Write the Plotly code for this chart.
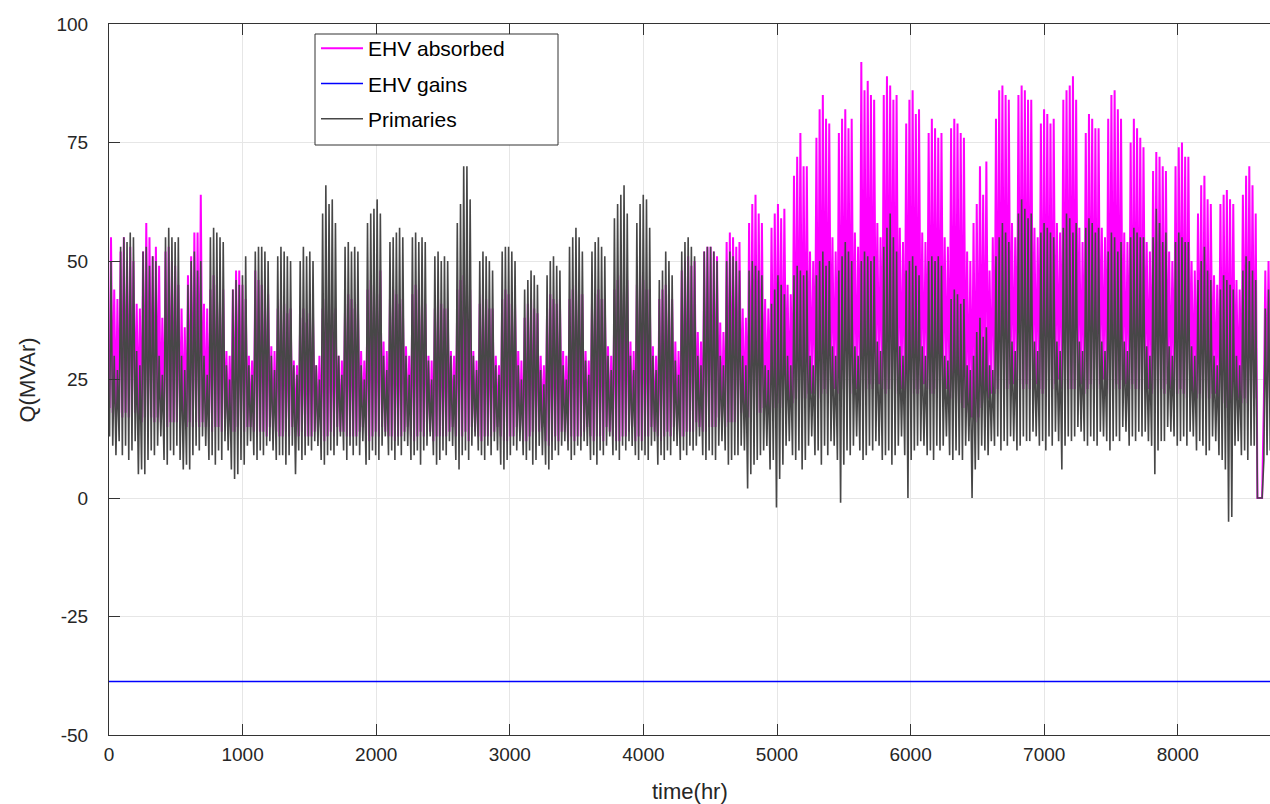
import plotly.graph_objects as go

# ---- data (daily extremes, weeks of 7 days; hour = day*24) ----
HOURS_PER_DAY = 24
TROUGH_HOUR = 4
PEAK_HOUR = 15

# Primaries: daily peak values (MVAr)
GRAY_PEAK = [
    50, 30, 27, 53, 55, 54, 56,
    55, 31, 28, 52, 53, 49, 51,
    50, 30, 26, 55, 57, 55, 54,
    55, 30, 27, 45, 50, 52, 48,
    50, 30, 26, 55, 57, 56, 55,
    54, 28, 25, 44, 46, 45, 47,
    51, 28, 26, 52, 53, 53, 52,
    50, 30, 27, 51, 53, 52, 51,
    50, 28, 26, 50, 53, 51, 52,
    50, 28, 25, 60, 66, 62, 63,
    58, 30, 26, 53, 54, 52, 53,
    52, 28, 25, 58, 60, 61, 63,
    60, 30, 27, 54, 55, 56, 57,
    55, 30, 26, 55, 56, 54, 55,
    54, 29, 25, 51, 52, 50, 51,
    50, 30, 26, 58, 62, 70, 70,
    63, 30, 27, 50, 52, 51, 50,
    48, 28, 26, 52, 53, 53, 52,
    50, 28, 25, 44, 46, 48, 47,
    45, 27, 24, 47, 50, 51, 49,
    48, 28, 25, 53, 55, 57, 55,
    52, 29, 26, 52, 54, 55, 53,
    51, 30, 27, 59, 62, 64, 66,
    60, 30, 27, 58, 62, 64, 63,
    57, 30, 27, 46, 48, 52, 50,
    47, 29, 26, 52, 54, 55, 53,
    51, 30, 28, 52, 53, 53, 52,
    50, 30, 28, 50, 52, 51, 50,
    48, 30, 28, 48, 50, 49, 48,
    47, 28, 27, 41, 44, 47, 45,
    43, 30, 28, 47, 49, 48, 47,
    48, 30, 28, 47, 50, 52, 49,
    50, 32, 30, 48, 51, 54, 52,
    50, 32, 30, 50, 52, 51, 50,
    51, 33, 31, 53, 57, 60, 55,
    52, 32, 30, 48, 50, 51, 49,
    47, 32, 30, 50, 51, 50, 51,
    49, 30, 29, 42, 44, 43, 41,
    42, 28, 27, 30, 35, 38, 34,
    36, 28, 27, 51, 55, 58, 56,
    54, 33, 31, 60, 63, 61, 59,
    60, 33, 31, 56, 58, 57, 56,
    55, 33, 31, 57, 60, 59, 56,
    58, 33, 31, 57, 59, 58, 56,
    57, 33, 31, 52, 56, 55, 52,
    54, 33, 31, 55, 57, 56, 55,
    55, 32, 30, 55, 61, 58, 54,
    56, 32, 30, 54, 56, 55, 54,
    54, 32, 30, 46, 50, 53, 48,
    46, 30, 28, 44, 47, 46, 45,
    44, 30, 28, 48, 51, 50, 48,
    46, 0, 0, 40, 44, 42, 40,
]

# Primaries: daily trough values (MVAr)
GRAY_TROUGH = [
    13, 11, 9, 12, 9, 11, 8,
    10, 12, 5, 6, 5, 8, 10,
    9, 11, 13, 8, 7, 10, 9,
    11, 8, 6, 7, 6, 9, 11,
    10, 13, 11, 8, 9, 7, 10,
    8, 12, 10, 6, 4, 5, 8,
    7, 11, 12, 9, 8, 10, 9,
    11, 12, 10, 8, 9, 9, 7,
    9, 11, 5, 10, 8, 9, 11,
    10, 12, 11, 8, 7, 9, 10,
    9, 11, 13, 10, 8, 11, 9,
    11, 9, 12, 7, 8, 10, 9,
    8, 11, 13, 9, 10, 8, 11,
    9, 12, 11, 8, 9, 10, 7,
    10, 11, 13, 9, 7, 8, 10,
    9, 12, 11, 8, 6, 9, 10,
    8, 11, 13, 10, 9, 8, 11,
    9, 12, 10, 7, 6, 8, 9,
    11, 10, 12, 9, 8, 10, 7,
    8, 11, 9, 7, 6, 8, 10,
    9, 11, 12, 10, 8, 9, 11,
    10, 12, 11, 8, 9, 7, 10,
    9, 11, 13, 9, 10, 8, 11,
    10, 12, 11, 9, 8, 10, 9,
    8, 11, 12, 7, 9, 8, 10,
    9, 12, 11, 8, 10, 9, 11,
    10, 11, 13, 9, 8, 10, 9,
    8, 11, 12, 10, 7, 8, 9,
    9, 11, 10, 2, 5, 7, 8,
    9, 10, 11, 6, 8, -2, 4,
    7, 11, 12, 9, 8, 10, 6,
    8, 11, 13, 9, 10, 7, 11,
    9, 12, 11, 8, -1, 7, 10,
    9, 11, 13, 10, 8, 9, 11,
    10, 12, 11, 8, 9, 10, 7,
    9, 11, 13, 9, 0, 8, 10,
    11, 12, 11, 9, 10, 8, 11,
    10, 11, 13, 9, 8, 10, 9,
    8, 11, 12, 0, 6, 8, 11,
    10, 9, 12, 11, 13, 10, 12,
    11, 13, 12, 10, 11, 13, 12,
    12, 14, 13, 11, 12, 10, 13,
    11, 14, 12, 6, 11, 13, 12,
    13, 15, 14, 12, 11, 13, 12,
    11, 14, 13, 12, 10, 12, 13,
    12, 15, 14, 11, 13, 12, 14,
    13, 14, 12, 11, 5, 10, 12,
    12, 15, 14, 13, 11, 12, 13,
    11, 14, 13, 10, 12, 11, 9,
    10, 13, 12, 9, 8, 6, -5,
    -4, 11, 12, 9, 10, 8, 11,
    11, 0, 0, 8, 9, 10, 11,
]

# EHV absorbed: daily peak values (MVAr)
MAG_PEAK = [
    55, 44, 42, 52, 55, 50, 53,
    50, 41, 40, 52, 58, 55, 51,
    53, 49, 38, 52, 53, 50, 49,
    45, 40, 36, 47, 51, 56, 56,
    64, 41, 40, 44, 47, 45, 42,
    44, 31, 30, 44, 48, 48, 45,
    42, 30, 29, 48, 46, 45, 44,
    43, 32, 31, 40, 42, 41, 39,
    40, 29, 28, 38, 40, 37, 39,
    38, 28, 30, 40, 42, 41, 39,
    40, 30, 29, 41, 43, 42, 40,
    41, 31, 29, 44, 46, 45, 43,
    48, 33, 31, 42, 44, 43, 41,
    42, 32, 30, 43, 45, 44, 42,
    41, 30, 29, 40, 42, 41, 40,
    40, 31, 30, 44, 46, 47, 45,
    44, 31, 29, 41, 43, 42, 40,
    40, 30, 28, 42, 44, 43, 41,
    41, 31, 29, 38, 41, 42, 40,
    39, 30, 28, 40, 43, 42, 41,
    42, 31, 30, 42, 44, 45, 43,
    43, 31, 29, 41, 43, 44, 42,
    42, 32, 30, 44, 46, 47, 45,
    46, 33, 31, 45, 47, 46, 44,
    44, 32, 30, 42, 44, 45, 43,
    42, 33, 31, 48, 50, 51, 49,
    50, 35, 33, 52, 53, 53, 52,
    51, 37, 35, 54, 56, 55, 53,
    54, 40, 38, 58, 62, 64, 60,
    58, 42, 40, 57, 60, 62, 59,
    61, 45, 43, 68, 72, 77, 70,
    70, 52, 50, 76, 82, 85, 80,
    79, 55, 52, 77, 80, 82, 78,
    80, 56, 53, 92, 86, 88, 85,
    84, 58, 55, 85, 89, 87, 84,
    85, 57, 54, 79, 84, 86, 81,
    82, 56, 54, 77, 80, 78, 76,
    77, 55, 53, 78, 80, 79, 77,
    76, 52, 50, 58, 62, 70, 64,
    71, 48, 55, 80, 86, 87, 85,
    84, 58, 55, 85, 87, 86, 84,
    84, 57, 55, 79, 82, 81, 79,
    80, 58, 56, 84, 86, 87, 89,
    84, 57, 54, 77, 81, 80, 78,
    78, 57, 55, 80, 85, 86, 82,
    80, 56, 54, 75, 80, 78, 76,
    74, 54, 52, 69, 73, 72, 70,
    69, 52, 50, 70, 74, 75, 72,
    72, 50, 48, 60, 66, 68, 63,
    62, 47, 45, 62, 64, 65, 63,
    62, 46, 44, 64, 68, 70, 66,
    60, 0, 0, 48, 50, 49, 48,
]

# EHV absorbed: daily trough values (MVAr)
MAG_TROUGH = [
    19, 18, 17, 18, 17, 18, 17,
    17, 18, 17, 16, 17, 16, 17,
    16, 17, 16, 16, 15, 16, 16,
    16, 17, 16, 15, 16, 15, 16,
    15, 16, 15, 15, 14, 15, 15,
    14, 16, 15, 14, 14, 15, 14,
    14, 15, 15, 14, 13, 14, 14,
    13, 15, 14, 14, 13, 13, 14,
    13, 15, 14, 13, 14, 13, 13,
    13, 14, 14, 13, 12, 13, 14,
    13, 15, 14, 14, 13, 13, 13,
    13, 14, 15, 13, 12, 13, 14,
    13, 15, 14, 13, 13, 12, 13,
    13, 14, 15, 13, 12, 13, 14,
    13, 15, 14, 12, 13, 13, 13,
    13, 14, 15, 13, 12, 13, 14,
    12, 15, 14, 13, 12, 13, 13,
    13, 14, 15, 13, 12, 12, 13,
    13, 15, 14, 12, 12, 13, 14,
    13, 14, 15, 12, 11, 12, 13,
    12, 14, 14, 12, 13, 12, 13,
    13, 14, 15, 13, 12, 13, 13,
    12, 15, 14, 13, 12, 12, 13,
    13, 14, 15, 12, 13, 12, 13,
    13, 15, 14, 13, 12, 13, 14,
    13, 15, 14, 13, 13, 14, 14,
    14, 16, 15, 14, 14, 15, 15,
    15, 17, 16, 15, 16, 16, 16,
    16, 18, 17, 17, 17, 18, 18,
    18, 19, 19, 18, 19, 19, 20,
    19, 20, 20, 20, 21, 21, 21,
    21, 22, 22, 22, 21, 22, 23,
    22, 23, 23, 22, 22, 23, 22,
    22, 24, 23, 23, 22, 23, 24,
    23, 24, 24, 23, 22, 23, 23,
    22, 24, 23, 22, 23, 22, 23,
    22, 23, 24, 23, 22, 22, 23,
    22, 23, 23, 21, 21, 20, 20,
    19, 19, 18, 17, 16, 17, 19,
    20, 21, 22, 22, 23, 22, 23,
    23, 24, 24, 23, 24, 23, 24,
    23, 25, 24, 23, 22, 23, 24,
    23, 24, 25, 23, 24, 23, 23,
    23, 25, 24, 22, 23, 24, 23,
    23, 24, 25, 23, 22, 23, 24,
    23, 25, 24, 23, 24, 23, 23,
    22, 24, 23, 22, 23, 22, 23,
    22, 24, 23, 22, 22, 23, 22,
    21, 23, 22, 21, 22, 21, 21,
    21, 22, 22, 20, 20, 19, 19,
    19, 21, 21, 20, 21, 20, 21,
    21, 0, 0, 20, 21, 20, 21,
]

# EHV gains: constant level (MVAr)
EHV_GAINS_LEVEL = -38.7
EHV_GAINS_HOURS = [0, 8760]

X_TICKS = [0, 1000, 2000, 3000, 4000, 5000, 6000, 7000, 8000]
Y_TICKS = [-50, -25, 0, 25, 50, 75, 100]
Y_TICK_TEXT = ["-50", "-25", "0", "25", "50", "75", "100"]


def daily_series(troughs, peaks):
    xs, ys = [], []
    for d, (lo, hi) in enumerate(zip(troughs, peaks)):
        xs += [d * HOURS_PER_DAY + TROUGH_HOUR, d * HOURS_PER_DAY + PEAK_HOUR]
        ys += [lo, hi]
    return xs, ys


mx, my = daily_series(MAG_TROUGH, MAG_PEAK)
gx, gy = daily_series(GRAY_TROUGH, GRAY_PEAK)

fig = go.Figure()
fig.add_trace(go.Scatter(x=mx, y=my, mode="lines", name="EHV absorbed",
                         line=dict(color="#ff00ff", width=2),
                         legendgroup="a"))
fig.add_trace(go.Scatter(x=EHV_GAINS_HOURS, y=[EHV_GAINS_LEVEL] * 2, mode="lines",
                         name="EHV gains", line=dict(color="#0000ff", width=1.4),
                         legendgroup="b"))
fig.add_trace(go.Scatter(x=gx, y=gy, mode="lines", name="Primaries",
                         line=dict(color="#474747", width=1.6),
                         legendgroup="c"))

L, R, T, B = 109, 0, 24, 69
W, H = 1270, 804
pw, ph = W - L - R, H - T - B


def px_x(p):
    return (p - L) / pw


def px_y(p):
    return (H - B - p) / ph


axis_common = dict(showline=True, linecolor="#333333", linewidth=1,
                   ticks="inside", ticklen=11, tickcolor="#333333",
                   showgrid=True, gridcolor="#e6e6e6", gridwidth=1,
                   zeroline=False, tickfont=dict(size=19, color="#262626"))

fig.update_xaxes(range=[0, 8690], tickvals=X_TICKS, mirror="ticks",
                 ticklabelstandoff=2, **axis_common)
fig.update_yaxes(range=[-50, 100], tickvals=Y_TICKS, ticktext=Y_TICK_TEXT,
                 mirror=False, ticklabelstandoff=16, **axis_common)

# legend box
fig.add_shape(type="rect", xref="paper", yref="paper",
              x0=px_x(315), x1=px_x(558), y0=px_y(145), y1=px_y(34),
              line=dict(color="#333333", width=1), fillcolor="white", layer="above")

fig.update_layout(
    width=W, height=H,
    margin=dict(l=L, r=R, t=T, b=B),
    plot_bgcolor="white", paper_bgcolor="white",
    font=dict(family="Liberation Sans, Arial, sans-serif", size=19, color="#262626"),
    showlegend=True,
    legend=dict(x=px_x(316), y=px_y(28), xanchor="left", yanchor="top",
                bgcolor="rgba(0,0,0,0)", borderwidth=0,
                font=dict(size=21, color="#000000"),
                tracegroupgap=5, itemwidth=42),
    annotations=[
        dict(text="time(hr)", xref="paper", yref="paper", x=0.5, y=px_y(792),
             xanchor="center", yanchor="middle", showarrow=False,
             font=dict(size=22, color="#262626")),
        dict(text="Q(MVAr)", xref="paper", yref="paper", x=px_x(27), y=0.5,
             xanchor="center", yanchor="middle", showarrow=False, textangle=-90,
             font=dict(size=22, color="#262626")),
    ],
)

fig.write_html("out.html",
               config={"displayModeBar": False},
               post_script="document.body.style.margin='0';document.body.style.overflow='hidden';")
